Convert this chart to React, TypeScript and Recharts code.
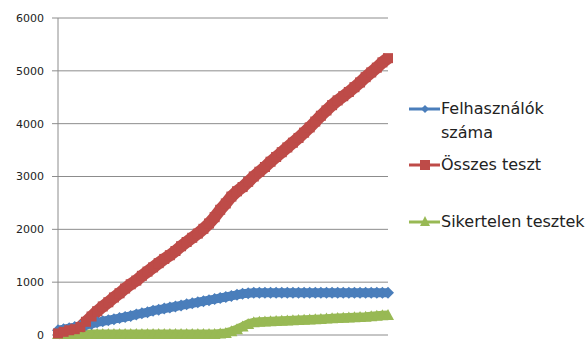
import { LineChart, Line, XAxis, YAxis, CartesianGrid } from "recharts"

// one value per sample, left to right
const users = [
    90, 110, 130, 150, 170, 190, 210, 240, 260, 280,
    300, 320, 340, 360, 390, 410, 430, 460, 480, 500,
    520, 540, 560, 580, 600, 620, 640, 660, 680, 700,
    720, 740, 760, 780, 790, 800, 800, 800, 800, 800,
    800, 800, 800, 800, 800, 800, 800, 800, 800, 800,
    800, 800, 800, 800, 800, 800, 800, 800, 800, 800,
]

const allTests = [
    30, 60, 90, 110, 150, 250, 350, 450, 540, 620,
    710, 790, 880, 960, 1030, 1120, 1200, 1280, 1360, 1440,
    1510, 1590, 1680, 1760, 1840, 1920, 2010, 2110, 2230, 2370,
    2490, 2620, 2720, 2800, 2900, 3000, 3090, 3180, 3280, 3370,
    3460, 3550, 3640, 3730, 3830, 3930, 4040, 4150, 4250, 4350,
    4440, 4520, 4600, 4690, 4780, 4880, 4970, 5060, 5160, 5240,
]

const failedTests = [
    20, 20, 20, 20, 20, 20, 20, 20, 20, 20,
    20, 20, 20, 20, 20, 20, 20, 20, 20, 20,
    20, 20, 20, 20, 20, 20, 20, 20, 20, 30,
    40, 70, 110, 160, 210, 240, 250, 255, 260, 265,
    270, 275, 280, 285, 290, 295, 300, 305, 310, 315,
    320, 325, 330, 335, 340, 345, 355, 365, 372, 380,
]

const yTicks = [0, 1000, 2000, 3000, 4000, 5000, 6000]

const BLUE = "#4A7EBB"
const RED = "#BE4B48"
const GREEN = "#98B954"

const data = users.map((u, i) => ({
    idx: i,
    users: u,
    all: allTests[i],
    failed: failedTests[i],
}))

const diamond = (p: any) => (
    <path
        key={`d-${p.index}`}
        d={`M${p.cx},${p.cy - 6} L${p.cx + 6},${p.cy} L${p.cx},${p.cy + 6} L${p.cx - 6},${p.cy} Z`}
        fill={BLUE}
    />
)

const square = (p: any) => (
    <rect key={`s-${p.index}`} x={p.cx - 5} y={p.cy - 5} width={10} height={10} fill={RED} />
)

const triangle = (p: any) => (
    <path
        key={`t-${p.index}`}
        d={`M${p.cx},${p.cy - 6} L${p.cx + 6},${p.cy + 5} L${p.cx - 6},${p.cy + 5} Z`}
        fill={GREEN}
    />
)

const legendItems = [
    { label: ["Felhasználók", "száma"], color: BLUE, top: 97, shape: "diamond" },
    { label: ["Összes teszt"], color: RED, top: 153, shape: "square" },
    { label: ["Sikertelen tesztek"], color: GREEN, top: 210, shape: "triangle" },
]

function LegendMark({ color, shape }: { color: string; shape: string }) {
    return (
        <svg width={32} height={12} style={{ position: "absolute", left: 0, top: 6 }}>
            <line x1={0} y1={6} x2={31} y2={6} stroke={color} strokeWidth={3} />
            {shape === "diamond" && <path d="M16,2 L20,6 L16,10 L12,6 Z" fill={color} />}
            {shape === "square" && <rect x={11} y={1} width={10} height={10} fill={color} />}
            {shape === "triangle" && <path d="M16,0 L21,10 L11,10 Z" fill={color} />}
        </svg>
    )
}

export default function App() {
    return (
        <div style={{ position: "absolute", left: 0, top: 0, width: 587, height: 341, background: "#fff", overflow: "hidden" }}>
            <LineChart width={587} height={341} data={data} margin={{ top: 18, right: 199, bottom: 6, left: 0 }}>
                <CartesianGrid vertical={false} stroke="#8C8C8C" strokeWidth={1} />
                <XAxis dataKey="idx" hide />
                <YAxis
                    domain={[0, 6000]}
                    ticks={yTicks}
                    width={58}
                    tickSize={6}
                    tickMargin={8}
                    stroke="#8C8C8C"
                    tick={{ fill: "#222", fontSize: 11, fontFamily: "DejaVu Sans" }}
                    interval={0}
                />
                <Line dataKey="failed" stroke={GREEN} strokeWidth={9} strokeLinejoin="round" dot={triangle} isAnimationActive={false} />
                <Line dataKey="users" stroke={BLUE} strokeWidth={9} strokeLinejoin="round" dot={diamond} isAnimationActive={false} />
                <Line dataKey="all" stroke={RED} strokeWidth={12} strokeLinejoin="round" dot={square} isAnimationActive={false} />
            </LineChart>
            {legendItems.map((it) => (
                <div
                    key={it.label[0]}
                    style={{
                        position: "absolute",
                        left: 409,
                        top: it.top,
                        paddingLeft: 32,
                        fontFamily: "DejaVu Sans",
                        fontSize: 16,
                        lineHeight: "24px",
                        color: "#222",
                        whiteSpace: "nowrap",
                    }}
                >
                    <LegendMark color={it.color} shape={it.shape} />
                    {it.label.map((l) => (
                        <div key={l}>{l}</div>
                    ))}
                </div>
            ))}
        </div>
    )
}
